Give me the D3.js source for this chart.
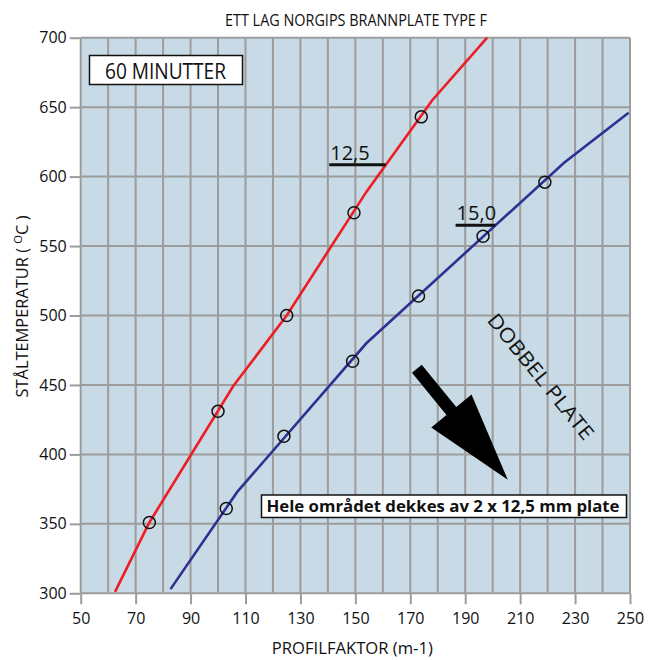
<!DOCTYPE html>
<html>
<head>
<meta charset="utf-8">
<script src="https://cdn.jsdelivr.net/npm/d3@7"></script>
<style>
  body { margin: 0; background: #fff; }
  text { font-family: "Open Sans", "Noto Sans", sans-serif; fill: #111; }
</style>
</head>
<body>
<div id="chart"></div>
<script>
////////////////////////////////////////////////////////////
//////////////////////// Data //////////////////////////////
////////////////////////////////////////////////////////////

//Curve for 12,5 mm plate (profilfaktor, temperatur)
var redLine = [[62.5, 301], [75, 351], [105.5, 449], [125, 500], [154, 589], [178, 655], [198, 700]];
var redPoints = [[75, 351], [100, 431], [125, 500], [149.5, 574], [174, 643]];

//Curve for 15,0 mm plate
var blueLine = [[82.7, 303], [107, 373], [154, 480], [226, 610], [249.5, 646]];
var bluePoints = [[103, 361], [124, 413], [149, 467], [173, 514], [196.5, 557], [219, 596]];

var xTicks = [50, 70, 90, 110, 130, 150, 170, 190, 210, 230, 250];
var yTicks = [300, 350, 400, 450, 500, 550, 600, 650, 700];

//Annotations, in data units
var label125 = {text: "12,5", at: [140.5, 608.5], lineTo: 161},
    label150 = {text: "15,0", at: [186.5, 565], lineTo: 201},
    arrow = {from: [172.4, 461.6], to: [205.5, 381.7]},
    dobbel = {text: "DOBBEL PLATE", at: [217.5, 456]};

////////////////////////////////////////////////////////////
//////////////////////// Set-up ////////////////////////////
////////////////////////////////////////////////////////////

var W = 649, H = 660;
var margin = {top: 37.7, left: 80.7, right: 19, bottom: 66.7},
	width = W - margin.left - margin.right,
	height = H - margin.top - margin.bottom;

var x = d3.scaleLinear().domain([50, 250]).range([0, width]);
var y = d3.scaleLinear().domain([300, 700]).range([height, 0]);

var gridColor = "#9c9c9c";

var svg0 = d3.select("#chart").append("svg")
	.attr("width", W)
	.attr("height", H);

var svg = svg0.append("g")
	.attr("transform", "translate(" + margin.left + "," + margin.top + ")");

//Background
svg.append("rect")
	.attr("width", width)
	.attr("height", height)
	.style("fill", "#c8dae5");

//Grid
svg.append("g").selectAll("line")
	.data(d3.range(50, 251, 10))
	.enter().append("line")
	.attr("x1", function(d) { return x(d); })
	.attr("x2", function(d) { return x(d); })
	.attr("y1", 0)
	.attr("y2", height)
	.style("stroke", gridColor)
	.style("stroke-width", 2);

svg.append("g").selectAll("line")
	.data(yTicks)
	.enter().append("line")
	.attr("x1", 0)
	.attr("x2", width)
	.attr("y1", function(d) { return y(d); })
	.attr("y2", function(d) { return y(d); })
	.style("stroke", gridColor)
	.style("stroke-width", 2);

//Axes
var xAxis = d3.axisBottom(x).tickValues(xTicks).tickSize(11).tickPadding(8).tickFormat(d3.format("d"));
var yAxis = d3.axisLeft(y).tickValues(yTicks).tickSize(11).tickPadding(3).tickFormat(d3.format("d"));

var gx = svg.append("g")
	.attr("transform", "translate(0," + height + ")")
	.call(xAxis);
var gy = svg.append("g").call(yAxis);

[gx, gy].forEach(function(g) {
	g.select(".domain").remove();
	g.selectAll("line").style("stroke", gridColor).style("stroke-width", 2);
	g.selectAll("text")
		.style("font-family", "'Open Sans', sans-serif")
		.style("font-size", "16px")
		.style("fill", "#111");
});

//Axis titles
svg.append("text")
	.attr("x", width/2 - 3)
	.attr("y", height + 61)
	.attr("text-anchor", "middle")
	.attr("textLength", 161)
	.attr("lengthAdjust", "spacingAndGlyphs")
	.style("font-size", "16px")
	.text("PROFILFAKTOR (m-1)");

var yTitle = svg.append("text")
	.attr("transform", "translate(" + (-53) + "," + (height/2 - 9) + ") rotate(-90)")
	.attr("text-anchor", "middle")
	.attr("textLength", 182)
	.attr("lengthAdjust", "spacingAndGlyphs")
	.style("font-size", "16px");
yTitle.append("tspan").text("STÅLTEMPERATUR ( ");
yTitle.append("tspan").attr("dy", -6).style("font-size", "11px").text("O");
yTitle.append("tspan").attr("dy", 6).text("C )");

//Chart title
svg0.append("text")
	.attr("x", 356)
	.attr("y", 26)
	.attr("text-anchor", "middle")
	.attr("textLength", 262)
	.attr("lengthAdjust", "spacingAndGlyphs")
	.style("font-size", "15.5px")
	.text("ETT LAG NORGIPS BRANNPLATE TYPE F");

//60 MINUTTER box
svg0.append("rect")
	.attr("x", 89.5).attr("y", 55.5)
	.attr("width", 153).attr("height", 29)
	.style("fill", "#fff").style("stroke", "#111").style("stroke-width", 1.5);
svg0.append("text")
	.attr("x", 105).attr("y", 78.5)
	.attr("textLength", 121)
	.attr("lengthAdjust", "spacingAndGlyphs")
	.style("font-size", "21px")
	.text("60 MINUTTER");

////////////////////////////////////////////////////////////
/////////////////////// Curves /////////////////////////////
////////////////////////////////////////////////////////////

var line = d3.line()
	.x(function(d) { return x(d[0]); })
	.y(function(d) { return y(d[1]); });

svg.append("path")
	.datum(redLine)
	.attr("d", line)
	.style("fill", "none")
	.style("stroke", "#ee1c25")
	.style("stroke-width", 2.6);

svg.append("path")
	.datum(blueLine)
	.attr("d", line)
	.style("fill", "none")
	.style("stroke", "#2e3192")
	.style("stroke-width", 2.6);

svg.append("g").selectAll("circle")
	.data(redPoints.concat(bluePoints))
	.enter().append("circle")
	.attr("cx", function(d) { return x(d[0]); })
	.attr("cy", function(d) { return y(d[1]); })
	.attr("r", 6)
	.style("fill", "none")
	.style("stroke", "#111")
	.style("stroke-width", 1.5);

//Curve labels with underline
[label125, label150].forEach(function(l) {
	svg.append("text")
		.attr("x", x(l.at[0]) + 1)
		.attr("y", y(l.at[1]) - 5)
		.style("font-size", "20px")
		.text(l.text);
	svg.append("line")
		.attr("x1", x(l.at[0]))
		.attr("x2", x(l.lineTo))
		.attr("y1", y(l.at[1]))
		.attr("y2", y(l.at[1]))
		.style("stroke", "#111")
		.style("stroke-width", 3);
});

////////////////////////////////////////////////////////////
///////////////////// Annotations //////////////////////////
////////////////////////////////////////////////////////////

//Big arrow
var ax0 = x(arrow.from[0]), ay0 = y(arrow.from[1]),
	ax1 = x(arrow.to[0]), ay1 = y(arrow.to[1]),
	len = Math.sqrt((ax1-ax0)*(ax1-ax0) + (ay1-ay0)*(ay1-ay0)),
	ux = (ax1-ax0)/len, uy = (ay1-ay0)/len,
	px = -uy, py = ux,
	shaftW = 6.3, headW = 26, headL = 89,
	bx = ax1 - ux*headL, by = ay1 - uy*headL;

var arrowPts = [
	[ax0 + px*shaftW, ay0 + py*shaftW],
	[bx + px*shaftW, by + py*shaftW],
	[bx + px*headW, by + py*headW],
	[ax1, ay1],
	[bx - px*headW, by - py*headW],
	[bx - px*shaftW, by - py*shaftW],
	[ax0 - px*shaftW, ay0 - py*shaftW]
];
svg.append("polygon")
	.attr("points", arrowPts.map(function(p) { return p.join(","); }).join(" "))
	.style("fill", "#000");

svg.append("text")
	.attr("transform", "translate(" + x(dobbel.at[0]) + "," + y(dobbel.at[1]) + ") rotate(51)")
	.attr("text-anchor", "middle")
	.attr("dy", "0.35em")
	.attr("textLength", 156)
	.attr("lengthAdjust", "spacingAndGlyphs")
	.style("font-size", "20px")
	.text(dobbel.text);

//Note box
svg0.append("rect")
	.attr("x", 261.5).attr("y", 495)
	.attr("width", 365).attr("height", 22.5)
	.style("fill", "#fff").style("stroke", "#111").style("stroke-width", 1.5);
svg0.append("text")
	.attr("x", 266.5).attr("y", 512)
	.attr("textLength", 353)
	.attr("lengthAdjust", "spacingAndGlyphs")
	.style("font-size", "16px")
	.style("font-weight", "bold")
	.text("Hele området dekkes av 2 x 12,5 mm plate");
</script>
</body>
</html>
